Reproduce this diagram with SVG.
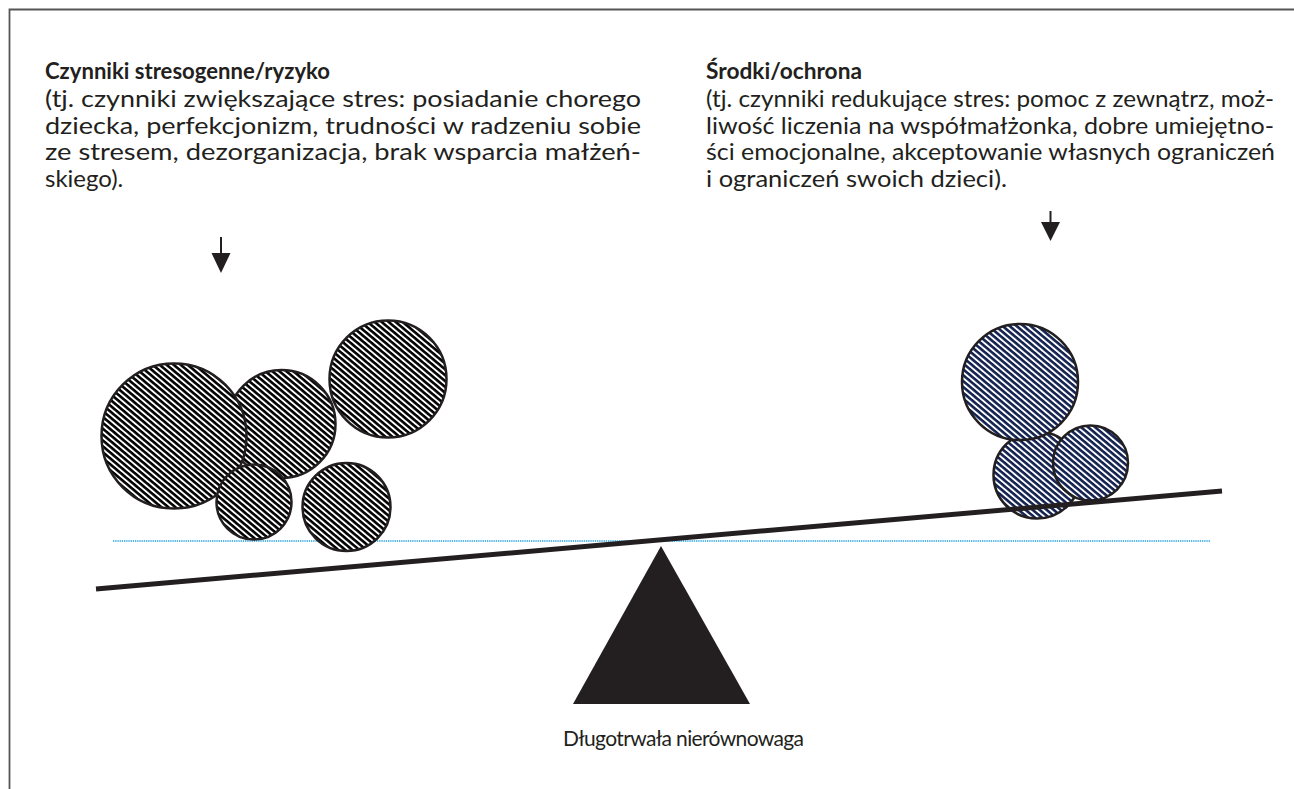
<svg xmlns="http://www.w3.org/2000/svg" width="1294" height="789" viewBox="0 0 1294 789">
<style>
.t{font-family:Lato,"Open Sans","Liberation Sans",sans-serif;fill:#231f20;font-size:24px;font-weight:400}
.h{font-weight:700;font-size:22px}
.lb{font-size:21px}
.c{stroke:#231f20;stroke-width:2.5}
.ck{fill:url(#hk)}
.cb{fill:url(#hb)}
</style>
<defs>
<pattern id="hk" patternUnits="userSpaceOnUse" width="4.5" height="4.5" patternTransform="rotate(40)">
<rect width="4.5" height="4.5" fill="#fff"/><rect width="4.5" height="2.6" fill="#000"/>
</pattern>
<pattern id="hb" patternUnits="userSpaceOnUse" width="4.5" height="4.5" patternTransform="rotate(40)">
<rect width="4.5" height="4.5" fill="#fff"/><rect width="4.5" height="2.6" fill="#122150"/>
</pattern>
</defs>
<rect width="1294" height="789" fill="#fff"/>
<path d="M9.5 789V9.5H1294" fill="none" stroke="#555" stroke-width="1.8"/>

<g id="risk-text">
<text class="t h" x="45" y="79" textLength="285" lengthAdjust="spacingAndGlyphs">Czynniki stresogenne/ryzyko</text>
<text class="t" x="45" y="107" textLength="596" lengthAdjust="spacingAndGlyphs">(tj. czynniki zwiększające stres: posiadanie chorego</text>
<text class="t" x="45" y="133.5" textLength="596" lengthAdjust="spacingAndGlyphs">dziecka, perfekcjonizm, trudności w radzeniu sobie</text>
<text class="t" x="45" y="160" textLength="596" lengthAdjust="spacingAndGlyphs">ze stresem, dezorganizacja, brak wsparcia małżeń-</text>
<text class="t" x="45" y="186.5">skiego).</text>
</g>

<g id="protect-text">
<text class="t h" x="706" y="79" textLength="156" lengthAdjust="spacingAndGlyphs">Środki/ochrona</text>
<text class="t" x="706" y="107" textLength="568" lengthAdjust="spacingAndGlyphs">(tj. czynniki redukujące stres: pomoc z zewnątrz, moż-</text>
<text class="t" x="706" y="133.5" textLength="568" lengthAdjust="spacingAndGlyphs">liwość liczenia na współmałżonka, dobre umiejętno-</text>
<text class="t" x="706" y="160" textLength="569" lengthAdjust="spacingAndGlyphs">ści emocjonalne, akceptowanie własnych ograniczeń</text>
<text class="t" x="706" y="186.5" textLength="301" lengthAdjust="spacingAndGlyphs">i ograniczeń swoich dzieci).</text>
</g>

<g id="connectors">
<line x1="221" y1="237" x2="221" y2="255" stroke="#231f20" stroke-width="2"/>
<polygon points="211.5,253 230.5,253 221,273" fill="#231f20"/>
<line x1="1050.5" y1="211" x2="1050.5" y2="224" stroke="#231f20" stroke-width="2"/>
<polygon points="1041,222 1060,222 1050.5,241" fill="#231f20"/>
</g>

<g id="level-line">
<line x1="113" y1="541" x2="1210" y2="541" stroke="#1f9fe0" stroke-width="1.6" stroke-dasharray="1.3 0.9"/>
</g>

<g id="risk-circles">
<circle class="c ck" cx="281.5" cy="424" r="54"/>
<circle class="c ck" cx="174" cy="436" r="72.5"/>
<circle class="c ck" cx="388" cy="379" r="58.5"/>
<circle class="c ck" cx="254" cy="502" r="37.5"/>
<circle class="c ck" cx="346.5" cy="507" r="44"/>
</g>

<g id="protect-circles">
<circle class="c cb" cx="1037" cy="475" r="43.5"/>
<circle class="c cb" cx="1020" cy="382" r="58"/>
<circle class="c cb" cx="1090.5" cy="463" r="37.5"/>
</g>

<g id="beam">
<line x1="96" y1="589" x2="1222" y2="491" stroke="#231f20" stroke-width="5"/>
</g>

<g id="fulcrum">
<polygon points="661,546 750,704 573,704" fill="#231f20"/>
</g>

<g id="label">
<text class="t lb" x="683.5" y="746" text-anchor="middle" textLength="241" lengthAdjust="spacing">Długotrwała nierównowaga</text>
</g>
</svg>
